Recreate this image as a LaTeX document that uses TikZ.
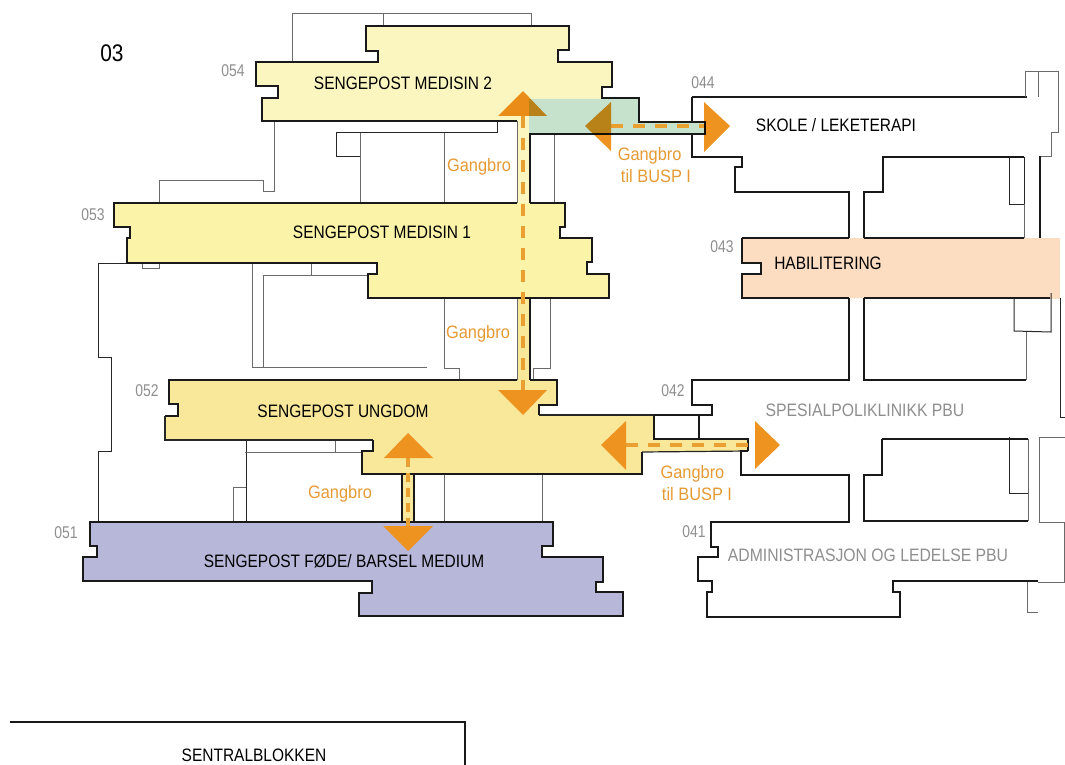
\documentclass[tikz,border=0pt]{standalone}
\usepackage{fontspec}
\setmainfont{Liberation Sans}
\usetikzlibrary{calc}
\definecolor{fiftyfour}{HTML}{FBF6C0}
\definecolor{fiftythree}{HTML}{FBF3A8}
\definecolor{fiftytwo}{HTML}{F9E79A}
\definecolor{fiftyone}{HTML}{B6B7D9}
\definecolor{fortythree}{HTML}{FCDDC2}
\definecolor{bridgegreen}{HTML}{C6E2CC}
\definecolor{arroworange}{HTML}{EE9320}
\definecolor{dashorange}{HTML}{E9A030}
\definecolor{labelorange}{HTML}{E59A33}
\definecolor{numgray}{HTML}{8E8E8E}
\definecolor{wallthin}{HTML}{6A6A6A}
\tikzset{
  heavy/.style={draw=black!90,line width=1.9pt,line join=miter},
  medium/.style={draw=black!85,line width=1.2pt,line join=miter},
  light/.style={draw=wallthin,line width=1pt},
  hair/.style={draw=black!85,line width=1pt},
  bridgedash/.style={draw=dashorange,line width=4.5pt,dash pattern=on 12pt off 10pt},
  tri/.style={fill=arroworange,draw=none},
  trigreen/.style={fill=arroworange,draw=none,blend mode=multiply},
  roomlabel/.style={font=\fontsize{18}{20}\selectfont,xscale=.86,text=black,inner sep=0pt},
  graylabel/.style={font=\fontsize{18}{20}\selectfont,xscale=.875,text=numgray,inner sep=0pt},
  numlabel/.style={font=\fontsize{17}{19}\selectfont,xscale=.82,text=numgray,inner sep=0pt},
  bridgelabel/.style={font=\fontsize{18}{22}\selectfont,xscale=.91,text=labelorange,inner sep=0pt,align=center}
}
\begin{document}
\begin{tikzpicture}[x=1pt,y=-1pt]
\useasboundingbox (0,0) rectangle (1065,765);
\clip (0,0) rectangle (1065,765);
% ---- fills
\fill[fiftyfour] (366,26)--(569,26)--(569,50)--(558,50)--(558,62)--(612,62)--(612,87)--(602,87)--(602,99)--(529,99)--(529,203)--(517,203)--(517,121)--(262,121)--(262,98)--(278,98)--(278,86)--(256,86)--(256,62)--(378,62)--(378,51)--(366,51)--cycle;
\fill[bridgegreen] (529,99)--(639,99)--(639,122)--(705,122)--(705,134)--(529,133)--cycle;
\fill[fiftythree] (114,203)--(565,203)--(565,227)--(560,227)--(560,238)--(592,238)--(592,262)--(587,262)--(587,274)--(609,274)--(609,298)--(368,298)--(368,274)--(377,274)--(377,263)--(127,263)--(127,238)--(130,238)--(130,227)--(114,227)--cycle;
\fill[fiftytwo] (169,380)--(557,380)--(557,405)--(539,405)--(539,415)--(654,415)--(654,439)--(748,439)--(748,451)--(642,452)--(642,474)--(362,474)--(362,451)--(373,451)--(373,440)--(165,440)--(165,416)--(178,416)--(178,404)--(169,404)--cycle;
\fill[fiftytwo] (517,298) rectangle (530,380);
\fill[fiftytwo] (402,474) rectangle (414,522);
\fill[fiftyone] (90,522)--(553,522)--(553,546)--(542,546)--(542,557)--(603,557)--(603,582)--(596,582)--(596,592)--(623,592)--(623,616)--(359,616)--(359,593)--(372,593)--(372,581)--(83,581)--(83,557)--(97,557)--(97,546)--(90,546)--cycle;
\fill[fortythree] (742,238)--(1060,238)--(1060,299)--(742,298)--(742,274)--(761,274)--(761,263)--(742,263)--cycle;
% ---- thin context walls
\draw[light] (292,62)--(292,14)--(531,14)--(531,26);
\draw[light] (383,14)--(383,26);
\draw[light] (274,122)--(274,191)--(263,191)--(263,180)--(159,180)--(159,203);
\draw[hair] (517,122)--(497,122)--(497,133)--(336,133)--(336,156)--(360,156);
\draw[light] (360,133)--(360,203);
\draw[light] (444,133)--(444,203);
\draw[light] (554,133)--(554,203);
\draw[hair] (127,263)--(98,263)--(98,357)--(111,357)--(111,451)--(98,451)--(98,521);
\draw[light] (142,263)--(142,268)--(159,268)--(159,263);
\draw[light] (252,263)--(252,367)--(427,367);
\draw[light] (263,367)--(263,275)--(368,275);
\draw[light] (311,263)--(311,275);
\draw[light] (444,299)--(444,368)--(459,368)--(459,380);
\draw[light] (550,299)--(550,368)--(533,368)--(533,380);
\draw[hair] (246,440)--(246,521);
\draw[light] (245,452)--(362,452);
\draw[light] (335,440)--(335,452);
\draw[light] (233,521)--(233,487)--(246,487);
\draw[light] (444,475)--(444,521);
\draw[light] (542,475)--(542,521);
% ---- heavy outlines
\draw[heavy] (517,121)--(262,121)--(262,98)--(278,98)--(278,86)--(256,86)--(256,62)--(378,62)--(378,51)--(366,51)--(366,26)--(569,26)--(569,50)--(558,50)--(558,62)--(612,62)--(612,87)--(602,87)--(602,98)--(639,98)--(639,122)--(705,122)--(705,134)--(530,134)--(530,203);
\draw[heavy] (692,97)--(692,122);
\draw[light] (517,121)--(517,203);
\draw[heavy] (517,203)--(114,203)--(114,227)--(130,227)--(130,238)--(127,238)--(127,263)--(377,263)--(377,274)--(368,274)--(368,298)--(609,298)--(609,274)--(587,274)--(587,262)--(592,262)--(592,238)--(560,238)--(560,227)--(565,227)--(565,203)--(530,203);
\draw[light] (517,299)--(517,380);
\draw[heavy] (530,299)--(530,380);
\draw[heavy] (517,380)--(169,380)--(169,404)--(178,404)--(178,416)--(165,416);
\draw[medium] (165,416)--(165,440)--(373,440);
\draw[heavy] (373,440)--(373,451)--(362,451)--(362,474)--(642,474)--(642,452);
\draw[medium] (642,452)--(748,451);
\draw[heavy] (748,451)--(748,439)--(654,439)--(654,415);
\draw[medium] (654,415)--(539,415);
\draw[heavy] (539,415)--(539,405)--(557,405)--(557,380)--(530,380);
\draw[heavy] (654,415)--(698,415);
\draw[heavy] (402,475)--(402,521);
\draw[heavy] (414,475)--(414,521);
\draw[heavy] (90,522)--(553,522)--(553,546)--(542,546)--(542,557)--(603,557)--(603,582)--(596,582)--(596,592)--(623,592)--(623,616)--(359,616)--(359,593)--(372,593)--(372,581)--(83,581)--(83,557)--(97,557)--(97,546)--(90,546)--cycle;
% ---- right wing
\draw[heavy] (692,134)--(692,157)--(742,157)--(742,167)--(735,167)--(735,192)--(849,192)--(849,238);
\draw[heavy] (692,97)--(1027,97);
\draw[light] (1025,97)--(1025,72)--(1058,72)--(1058,133)--(1051,133)--(1051,156)--(1040,156);
\draw[light] (1038,72)--(1038,97);
\draw[heavy] (1040,156)--(1040,238);
\draw[heavy] (864,238)--(864,192)--(883,192)--(883,157)--(1024,157);
\draw[hair] (1024,157)--(1024,204)--(1009,204)--(1009,158);
\draw[light] (1024,204)--(1024,238);
\draw[heavy] (742,238)--(849,238);
\draw[heavy] (864,238)--(1024,238);
\draw[heavy] (742,238)--(742,263)--(761,263)--(761,274)--(742,274)--(742,298)--(849,298);
\draw[heavy] (864,298)--(1050,298);
\draw[hair] (1014,298)--(1014,331)--(1051,332)--(1051,293);
\draw[light] (1026,332)--(1026,380);
\draw[heavy] (849,298)--(849,380)--(692,380)--(692,405)--(712,405)--(712,415)--(699,415)--(699,440);
\draw[heavy] (864,298)--(864,380)--(1026,380);
\draw[hair] (1060,298)--(1060,417)--(1065,417);
\draw[heavy] (748,451)--(741,451)--(741,475)--(849,475)--(849,522)--(711,522)--(711,547)--(718,547)--(718,557)--(698,557)--(698,581)--(712,581)--(712,592)--(707,592)--(707,617)--(900,617)--(900,592)--(893,592)--(893,581)--(1038,581);
\draw[heavy] (882,439)--(882,475)--(864,475)--(864,521)--(1028,521);
\draw[heavy] (882,439)--(1028,439);
\draw[light] (1028,439)--(1028,521);
\draw[hair] (1009,437)--(1009,493)--(1028,493);
\draw[light] (1065,437)--(1039,437)--(1039,522)--(1064,522)--(1064,582)--(1038,582);
\draw[light] (1027,582)--(1027,612)--(1038,612);
% ---- walkway dashes
\draw[bridgedash] (523,116)--(523,390);
\draw[bridgedash] (611,126)--(704,126);
\draw[bridgedash] (626,445)--(755,445);
\draw[bridgedash,dash pattern=on 9pt off 6pt] (408,458)--(408,526);
% ---- arrowheads
\fill[trigreen] (523,91)--(547,116)--(498,116)--cycle;
\fill[tri] (523,415)--(547,390)--(498,390)--cycle;
\fill[trigreen] (585,126)--(611,102)--(611,151)--cycle;
\fill[trigreen] (730,126)--(704,102)--(704,152)--cycle;
\fill[tri] (601,445)--(626,421)--(626,470)--cycle;
\fill[tri] (780,445)--(755,421)--(755,469)--cycle;
\fill[tri] (408,433)--(433,458)--(384,458)--cycle;
\fill[tri] (408,551)--(433,526)--(383,526)--cycle;
% ---- legend
\draw[draw=black!90,line width=2.8pt] (10,722)--(465,722)--(465,765);
% ---- labels
\node[font=\fontsize{24}{26}\selectfont,xscale=.87,inner sep=0pt] (l03) at (112,53) {03};
\node[numlabel] (n054) at (233,71) {054};
\node[numlabel] (n053) at (93,215) {053};
\node[numlabel] (n052) at (147,391) {052};
\node[numlabel] (n051) at (66,533) {051};
\node[numlabel] (n044) at (703,83) {044};
\node[numlabel] (n043) at (722,247) {043};
\node[numlabel] (n042) at (673,391) {042};
\node[numlabel] (n041) at (694,532) {041};
\node[roomlabel] (m2) at (403,83) {SENGEPOST MEDISIN 2};
\node[roomlabel] (m1) at (382,232) {SENGEPOST MEDISIN 1};
\node[roomlabel] (ung) at (343,411) {SENGEPOST UNGDOM};
\node[roomlabel] (fod) at (344,561) {SENGEPOST FØDE/ BARSEL MEDIUM};
\node[roomlabel] (sko) at (836,125) {SKOLE / LEKETERAPI};
\node[roomlabel] (hab) at (828,263) {HABILITERING};
\node[graylabel] (spe) at (865,410) {SPESIALPOLIKLINIKK PBU};
\node[graylabel] (adm) at (868,555) {ADMINISTRASJON OG LEDELSE PBU};
\node[roomlabel] (sen) at (254,755) {SENTRALBLOKKEN};
\node[bridgelabel] (g1) at (479,167) {Gangbro};
\node[bridgelabel] (g2) at (478,334) {Gangbro};
\node[bridgelabel] (g3) at (340,494) {Gangbro};
\node[bridgelabel] (g4) at (656,165) {Gangbro\kern 14pt\\til BUSP I};
\node[bridgelabel] (g5) at (697,483) {Gangbro\kern 10pt\\til BUSP I};
\end{tikzpicture}
\end{document}
